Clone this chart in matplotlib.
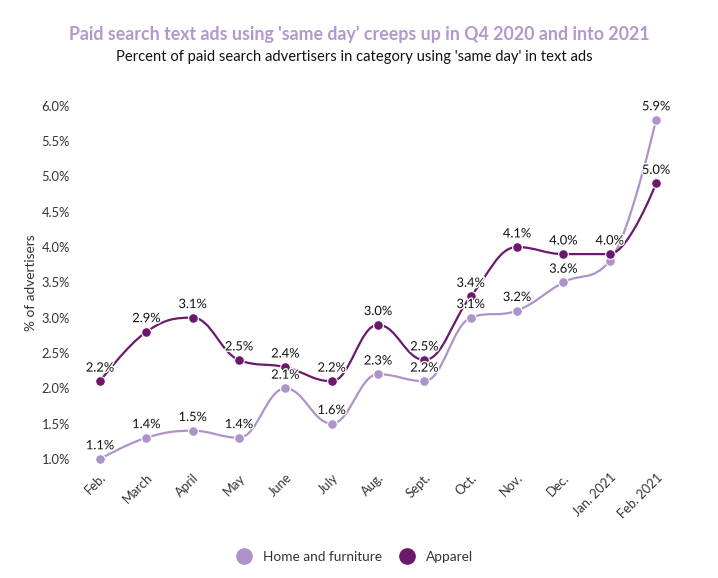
import numpy as np
import matplotlib
matplotlib.use("Agg")
import matplotlib.pyplot as plt
from matplotlib.path import Path
import matplotlib.patches as patches
import matplotlib.patheffects as pe
from matplotlib.lines import Line2D

plt.rcParams['font.family'] = ['Lato', 'DejaVu Sans']

months = ['Feb.', 'March', 'April', 'May', 'June', 'July', 'Aug.', 'Sept.',
          'Oct.', 'Nov.', 'Dec.', 'Jan. 2021', 'Feb. 2021']
home = [1.0, 1.3, 1.4, 1.3, 2.0, 1.5, 2.2, 2.1, 3.0, 3.1, 3.5, 3.8, 5.8]
apparel = [2.1, 2.8, 3.0, 2.4, 2.3, 2.1, 2.9, 2.4, 3.3, 4.0, 3.9, 3.9, 4.9]
home_labels = ['1.1%', '1.4%', '1.5%', '1.4%', '2.1%', '1.6%', '2.3%', '2.2%',
               '3.1%', '3.2%', '3.6%', None, '5.9%']
apparel_labels = ['2.2%', '2.9%', '3.1%', '2.5%', '2.4%', '2.2%', '3.0%', '2.5%',
                  '3.4%', '4.1%', '4.0%', '4.0%', '5.0%']
yticks = [1.0, 1.5, 2.0, 2.5, 3.0, 3.5, 4.0, 4.5, 5.0, 5.5, 6.0]

c_home = '#ae92ca'
c_app = '#6b1a6b'
txt = '#333333'


def spline_path(xs, ys, smoothing=1.5):
    # highcharts-style spline, bezier control points around each point
    n = len(xs)
    denom = smoothing + 1
    left = [None] * n
    right = [None] * n
    for i in range(n):
        x, y = xs[i], ys[i]
        if i == 0 or i == n - 1:
            left[i] = (x, y)
            right[i] = (x, y)
            continue
        lx, ly = xs[i - 1], ys[i - 1]
        nx, ny = xs[i + 1], ys[i + 1]
        lcx = (smoothing * x + lx) / denom
        lcy = (smoothing * y + ly) / denom
        rcx = (smoothing * x + nx) / denom
        rcy = (smoothing * y + ny) / denom
        corr = ((rcy - lcy) * (rcx - x)) / (rcx - lcx) + y - rcy
        lcy += corr
        rcy += corr
        if lcy > ly and lcy > y:
            lcy = max(ly, y)
            rcy = 2 * y - lcy
        elif lcy < ly and lcy < y:
            lcy = min(ly, y)
            rcy = 2 * y - lcy
        if rcy > ny and rcy > y:
            rcy = max(ny, y)
            lcy = 2 * y - rcy
        elif rcy < ny and rcy < y:
            rcy = min(ny, y)
            lcy = 2 * y - rcy
        left[i] = (lcx, lcy)
        right[i] = (rcx, rcy)
    verts = [(xs[0], ys[0])]
    codes = [Path.MOVETO]
    for i in range(1, n):
        verts += [right[i - 1], left[i], (xs[i], ys[i])]
        codes += [Path.CURVE4] * 3
    return Path(verts, codes)


fig = plt.figure(figsize=(7.18, 5.78), dpi=100)
ax = fig.add_axes([0.107, 0.206, 0.839, 0.611])
x = np.arange(len(months))

for vals, labs, col in [(home, home_labels, c_home), (apparel, apparel_labels, c_app)]:
    ax.add_patch(patches.PathPatch(spline_path(x, vals), facecolor='none',
                                   edgecolor=col, lw=1.6, clip_on=False, zorder=2))
    ax.plot(x, vals, 'o', color=col, markersize=7, markeredgecolor='white',
            markeredgewidth=0.8, clip_on=False, zorder=3)
    for xi, v, lab in zip(x, vals, labs):
        if lab is None:
            continue
        ax.annotate(lab, (xi, v), xytext=(0, 5.5), textcoords='offset points',
                    ha='center', va='bottom', fontsize=9.3, color='#111111', zorder=4,
                    path_effects=[pe.withStroke(linewidth=2, foreground='white')])

ax.set_xlim(-0.5, len(months) - 0.5)
ax.set_ylim(1.0, 6.0)
ax.set_yticks(yticks)
ax.set_yticklabels([f'{t:.1f}%' for t in yticks])
ax.set_xticks(x)
ax.set_xticklabels(months, rotation=45, ha='right', rotation_mode='anchor')
ax.tick_params(axis='both', length=0, colors=txt, labelsize=9.3)
ax.tick_params(axis='x', pad=9)
ax.tick_params(axis='y', pad=5)
for s in ax.spines.values():
    s.set_visible(False)
ax.set_ylabel('% of advertisers', fontsize=9.8, color=txt, labelpad=3)

fig.text(0.5, 0.94, "Paid search text ads using 'same day' creeps up in Q4 2020 and into 2021",
         ha='center', va='center', fontsize=12.8, fontweight='bold', color='#b497cc')
fig.text(0.493, 0.901, "Percent of paid search advertisers in category using 'same day' in text ads",
         ha='center', va='center', fontsize=10.6, color='#111111')

handles = [Line2D([], [], marker='o', ls='none', color=c_home, markersize=11),
           Line2D([], [], marker='o', ls='none', color=c_app, markersize=11)]
fig.legend(handles, ['Home and furniture', 'Apparel'], loc='center',
           bbox_to_anchor=(0.49, 0.036), ncol=2, frameon=False, fontsize=9.8,
           handletextpad=0.4, columnspacing=0.8, labelcolor=txt)

fig.savefig('out.png', dpi=100)
